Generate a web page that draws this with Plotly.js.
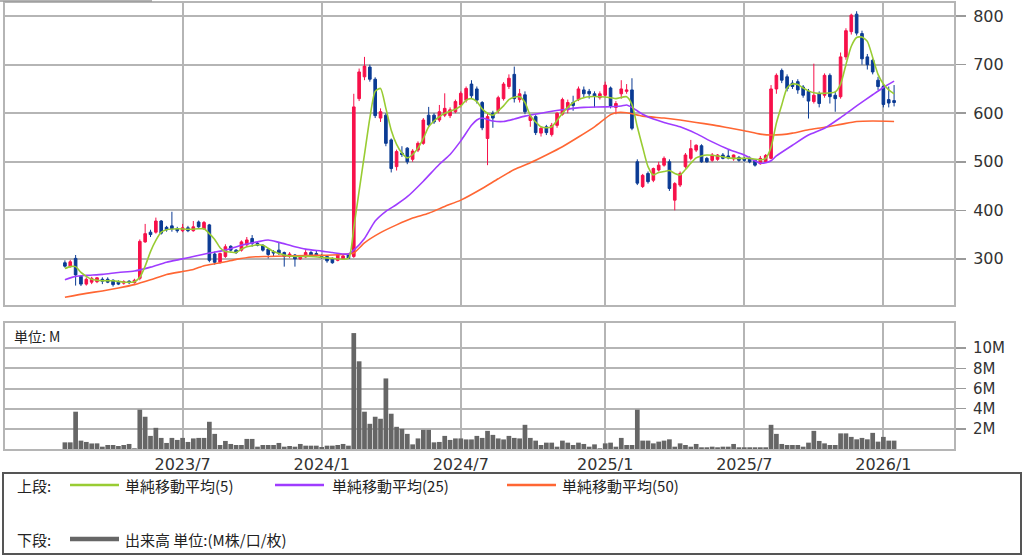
<!DOCTYPE html>
<html>
<head>
<meta charset="utf-8">
<script src="https://cdn.plot.ly/plotly-3.0.1.min.js"></script>
<style>
html,body{margin:0;padding:0;background:#fff;}
#chart{width:1024px;height:559px;}
</style>
</head>
<body>
<div id="chart"></div>
<script>
// ---- Data (weekly candles, index = week number) ----
const open  = [292,284,301,264,248,252,253,258,258,256,252,250,254,251,260,335,355,355,378,365,368,362,358,364,358,376,362,370,310,293,305,326,318,318,329,342,332,328,320,315,318,313,305,308,300,304,313,311,307,305,301,297,300,308,305,630,675,695,670,590,596,545,490,518,528,505,524,538,596,596,586,596,595,603,617,627,660,650,622,548,600,605,630,655,680,628,638,585,593,559,572,556,575,598,607,622,628,648,645,640,632,637,652,612,640,645,648,500,449,476,462,483,493,500,421,452,490,507,524,533,507,503,505,514,512,506,509,506,507,503,496,500,507,650,688,675,662,665,654,645,624,640,637,678,637,634,716,768,804,764,716,709,668,655,628,626];
const high  = [297,298,308,266,262,263,262,262,262,258,256,256,256,259,340,372,360,385,380,368,397,366,372,368,378,379,378,372,315,313,330,328,320,338,345,349,335,330,322,318,333,315,314,310,308,318,316,318,310,307,303,312,310,312,640,692,716,700,674,610,600,548,525,532,530,526,542,590,613,600,617,641,612,628,645,655,668,655,625,600,605,636,664,680,696,650,645,598,596,572,576,580,602,632,628,636,655,655,650,645,645,665,655,625,668,660,672,505,475,480,488,500,511,505,458,480,518,545,536,536,510,518,516,518,525,515,512,510,511,505,512,516,658,682,692,680,668,670,658,650,702,645,682,682,645,725,775,805,810,770,722,712,675,660,655,658];
const low   = [282,282,245,244,245,248,250,248,250,243,246,247,248,249,256,333,345,352,350,356,356,354,355,355,356,364,360,293,288,290,302,315,310,315,326,325,326,315,301,305,308,284,302,284,298,302,305,305,300,292,290,295,298,300,302,625,668,665,590,582,532,478,482,510,495,500,520,535,572,578,582,592,590,600,612,622,630,620,565,493,570,600,626,650,622,622,598,572,555,552,555,552,570,595,600,605,625,632,630,612,628,632,610,598,630,640,565,452,446,455,458,480,490,440,400,448,486,503,520,498,498,500,502,505,505,502,500,500,497,490,494,498,505,640,662,645,650,640,632,589,620,612,632,620,603,630,710,762,760,700,690,680,648,612,612,614];
const close = [285,294,267,248,258,260,261,254,252,247,248,253,251,256,336,352,350,378,353,360,362,358,364,358,366,366,375,297,293,311,325,318,313,335,339,332,328,318,309,312,312,305,310,300,305,313,308,307,305,296,292,308,306,301,613,685,697,670,595,603,538,486,521,515,500,522,538,586,576,582,603,610,607,624,641,651,636,627,570,593,590,632,660,672,630,640,603,593,560,569,560,575,600,628,622,616,650,640,640,635,640,658,615,620,650,648,569,456,472,459,486,493,507,445,455,476,514,527,534,500,500,514,514,507,508,514,503,503,500,493,507,513,650,678,668,651,655,648,637,625,637,620,678,634,630,716,770,802,765,712,700,685,655,618,621,622];
// volume, millions
const volume = [0.66,0.66,3.7,0.83,0.7,0.55,0.56,0.23,0.4,0.4,0.3,0.4,0.5,0.07,3.9,3.2,1.3,2.1,1.1,0.6,1.1,0.9,1.1,0.7,1.05,1.1,1.1,2.7,1.5,0.4,0.8,0.5,0.4,0.4,1.0,1.0,0.23,0.4,0.4,0.4,0.6,0.23,0.3,0.23,0.5,0.33,0.33,0.33,0.2,0.33,0.33,0.4,0.5,0.33,11.5,8.7,3.7,2.5,3.2,3.0,7.0,3.5,2.2,2.0,1.5,0.46,1.05,1.9,1.9,0.66,0.7,1.3,0.9,1.05,1.05,0.95,0.95,1.3,1.1,1.8,1.4,1.05,0.95,1.3,1.1,1.05,2.4,1.1,0.83,0.4,0.63,0.63,0.23,0.83,0.63,0.4,0.63,0.5,0.23,0.46,0.07,0.56,0.63,0.23,1.1,0.4,0.4,3.9,0.83,0.83,0.56,0.73,0.83,0.96,0.23,0.56,0.4,0.23,0.5,0.17,0.17,0.23,0.17,0.23,0.23,0.5,0.17,0.17,0.17,0.17,0.17,0.17,2.4,1.5,0.5,0.4,0.4,0.4,0.23,0.63,1.8,0.8,0.56,0.4,0.4,1.55,1.55,1.2,0.96,1.1,0.96,1.6,0.73,1.2,0.83,0.83];
// moving averages: week index / value
const ma5Week  = [0,1,2,3,4,5,7,9,11,13,14,15,16,17,18,19,21,23,25,26,27,28,29,30,31,32,33,34,35,36,37,38,39,40,41,43,46,50,53,54,55,56,57,58,59,60,61,62,63,64,65,66,67,68,69,70,71,72,73,74,75,76,77,78,79,80,81,82,83,84,85,86,87,88,89,90,91,92,93,94,95,96,97,98,100,102,103,105,106,107,108,109,110,111,112,113,114,115,116,117,118,119,120,122,124,126,128,130,131,132,133,134,135,136,137,138,139,140,142,144,145,146,147,148,149,150,151,152,153,154,155];
const ma5Value = [280,284,284,272,264,258,255,255,252,253,262,285,315,338,355,360,362,361,362,362,352,340,323,315,314,313,320,325,327,329,328,322,315,311,308,305,305,301,301,364,440,515,590,645,651,610,565,536,518,508,515,528,548,572,584,593,600,604,608,615,627,630,624,609,600,596,605,615,628,633,634,622,595,582,572,570,572,585,600,612,622,628,632,634,634,632,630,634,618,572,530,490,473,478,480,482,476,473,484,497,508,512,514,512,508,507,507,504,507,530,580,617,652,660,659,652,646,642,641,644,660,700,738,756,757,748,715,680,660,648,640];
const ma25Week  = [0,2,4,7,10,13,16,19,22,24,27,30,33,36,38,40,43,45,48,50,53,54,56,58,60,62,64,67,70,72,74,76,77,78,80,82,84,86,89,93,97,101,104,105,106,108,110,112,115,118,121,124,127,129,130,131,132,133,136,139,142,145,148,151,153,155];
const ma25Value = [257,264,266,268,272,275,283,293,300,305,312,318,328,335,339,334,325,320,316,313,310,318,342,378,398,412,428,460,495,515,543,575,586,590,584,583,588,594,600,607,612,613,615,617,612,598,588,581,572,558,541,526,514,502,497,498,502,512,534,555,569,591,615,638,653,666];
const ma50Week  = [0,4,7,10,13,16,19,22,24,26,28,30,32,35,38,41,45,50,53,54,56,59,62,65,68,71,74,78,81,84,87,90,93,96,99,102,103,105,108,112,115,118,121,124,127,130,132,134,136,139,142,145,148,151,155];
const ma50Value = [221,229,234,240,247,257,268,274,278,286,290,294,299,304,305,306,307,308,310,312,333,354,370,384,394,408,421,445,465,484,498,514,531,551,572,597,601,601,594,590,586,581,576,570,564,557,555,556,559,566,571,577,583,584,583];
// axis ticks
const tickWeeks  = [22,48,74,101,127,153];
const tickLabels = ['2023/7','2024/1','2024/7','2025/1','2025/7','2026/1'];
const priceTicks = [300,400,500,600,700,800];
const volTicks   = [2,4,6,8,10];
const volLabels  = ['2M','4M','6M','8M','10M'];

// ---- Styling ----
const UP = '#f7104a', DN = '#0b3b94';
const C5 = '#99cc33', C25 = '#9f3cff', C50 = '#ff6633', CV = '#666666';
const GRID = '#b5b5b5';
const FONT = 'DejaVu Sans, "Noto Sans CJK JP", sans-serif';
const JFONT = '"Noto Sans CJK JP", "DejaVu Sans", sans-serif';
const weekIdx = close.map((_, i) => i);

const traces = [
  {type:'bar', x:weekIdx, y:volume, xaxis:'x', yaxis:'y', marker:{color:CV, line:{width:0}}, hoverinfo:'skip', showlegend:false},
  {type:'candlestick', x:weekIdx, open:open, high:high, low:low, close:close, xaxis:'x2', yaxis:'y2',
   increasing:{line:{color:UP, width:1}, fillcolor:UP}, decreasing:{line:{color:DN, width:1}, fillcolor:DN},
   whiskerwidth:0, hoverinfo:'skip', showlegend:false},
  {type:'scatter', mode:'lines', x:ma50Week, y:ma50Value, xaxis:'x2', yaxis:'y2', line:{color:C50, width:1.6, shape:'spline', smoothing:0.6}, hoverinfo:'skip', showlegend:false},
  {type:'scatter', mode:'lines', x:ma25Week, y:ma25Value, xaxis:'x2', yaxis:'y2', line:{color:C25, width:1.6, shape:'spline', smoothing:0.6}, hoverinfo:'skip', showlegend:false},
  {type:'scatter', mode:'lines', x:ma5Week, y:ma5Value, xaxis:'x2', yaxis:'y2', line:{color:C5, width:1.6, shape:'spline', smoothing:0.6}, hoverinfo:'skip', showlegend:false}
];

// plot-area pixel frame
const PL = 5, PR = 954, PT = 3, PB = 449;
const px = x => (x - PL) / (PR - PL);
const py = y => (PB - y) / (PB - PT);

const xCommon = {
  range:[-11.2, 166.2], tickvals:tickWeeks, ticktext:tickLabels,
  showgrid:true, gridcolor:GRID, gridwidth:2, zeroline:false,
  showline:true, mirror:true, linecolor:GRID, linewidth:2, ticks:'', fixedrange:true
};
const yCommon = {
  side:'right', showgrid:true, gridcolor:GRID, gridwidth:2, zeroline:false,
  showline:true, mirror:true, linecolor:GRID, linewidth:2,
  ticks:'outside', ticklen:10, tickwidth:1.5, tickcolor:'#9a9a9a', ticklabelstandoff:4, fixedrange:true
};

const legendText = (x, y, t) => ({xref:'paper', yref:'paper', x:px(x), y:py(y), xanchor:'left', yanchor:'middle',
  text:t, showarrow:false, font:{family:JFONT, size:15, color:'#222'}});
const legendLine = (x0, x1, y, c, w) => ({type:'line', xref:'paper', yref:'paper', x0:px(x0), x1:px(x1), y0:py(y), y1:py(y), line:{color:c, width:w}});

const layout = {
  width:1024, height:559,
  margin:{l:PL, r:1024-PR, t:PT, b:559-PB, pad:0},
  paper_bgcolor:'#ffffff', plot_bgcolor:'#ffffff',
  showlegend:false, bargap:0.12, hovermode:false, dragmode:false,
  font:{family:FONT, color:'#333'},
  xaxis: Object.assign({}, xCommon, {domain:[0,1], anchor:'y', showticklabels:true, tickfont:{family:FONT, size:16, color:'#333'}}),
  xaxis2: Object.assign({}, xCommon, {domain:[0,1], anchor:'y2', matches:'x', showticklabels:false, rangeslider:{visible:false}}),
  yaxis: Object.assign({}, yCommon, {domain:[0, py(323)], range:[0,12.5], tickvals:volTicks, ticktext:volLabels, tickfont:{family:FONT, size:15, color:'#333'}}),
  yaxis2: Object.assign({}, yCommon, {domain:[py(305), 1], range:[205,827], tickvals:priceTicks, tickfont:{family:FONT, size:16, color:'#333'}}),
  shapes:[
    {type:'line', xref:'paper', yref:'paper', x0:px(0), x1:px(152), y0:py(1), y1:py(1), line:{color:'#9a9a9a', width:1.5}},
    {type:'rect', xref:'paper', yref:'paper', x0:px(3), x1:px(1021), y0:py(554), y1:py(473), line:{color:'#555', width:2}, fillcolor:'rgba(0,0,0,0)'},
    legendLine(70, 119, 485, C5, 2.5),
    legendLine(275, 324, 485, C25, 2.5),
    legendLine(507, 556, 485, C50, 2.5),
    legendLine(70, 119, 539, CV, 4.5)
  ],
  annotations:[
    {xref:'paper', yref:'paper', x:px(12), y:py(336), xanchor:'left', yanchor:'middle', text:'単位: M', showarrow:false, font:{family:JFONT, size:14, color:'#222'}},
    legendText(15, 485, '上段:'),
    legendText(123, 485, '単純移動平均(5)'),
    legendText(330, 485, '単純移動平均(25)'),
    legendText(560, 485, '単純移動平均(50)'),
    legendText(15, 539, '下段:'),
    legendText(123, 539, '出来高 単位:(M株/口/枚)')
  ]
};

Plotly.newPlot('chart', traces, layout, {staticPlot:true, displayModeBar:false});
</script>
</body>
</html>
